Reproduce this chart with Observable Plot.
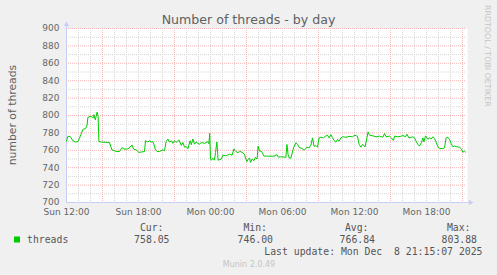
<!DOCTYPE html>
<html><head><meta charset="utf-8">
<script src="https://cdn.jsdelivr.net/npm/d3@7"></script>
<script src="https://cdn.jsdelivr.net/npm/@observablehq/plot@0.6"></script>
<style>
html,body{margin:0;padding:0;background:#f0f0f0;}
#chart{width:497px;height:275px;position:relative;}
</style></head><body><div id="chart"></div>
<script>
// minutes after Sun 12:00
const minutes = [
  0,7,18,32,45,57,65,74,82,95,
  103,107,124,132,137,144,153,158,162,174,
  215,227,249,265,277,287,307,328,335,348,
  362,374,390,395,407,415,424,432,437,445,
  453,465,482,490,498,507,515,524,532,540,
  548,562,574,582,590,598,607,618,624,632,
  640,648,657,665,674,690,707,712,716,720,
  725,732,740,745,752,758,774,782,798,815,
  828,837,845,857,865,878,890,895,902,907,
  915,920,928,937,945,953,958,965,975,987,
  1005,1038,1052,1060,1072,1097,1102,1108,1114,1122,
  1135,1147,1155,1163,1180,1188,1202,1213,1222,1230,
  1238,1247,1255,1263,1272,1285,1293,1305,1313,1322,
  1330,1338,1347,1355,1363,1372,1380,1397,1413,1430,
  1442,1455,1463,1472,1480,1493,1502,1508,1515,1532,
  1548,1565,1582,1590,1598,1615,1624,1635,1640,1657,
  1674,1682,1695,1702,1712,1724,1732,1740,1748,1757,
  1765,1774,1782,1787,1795,1807,1815,1824,1832,1840,
  1848,1857,1865,1882,1890,1898,1907,1915,1924,1932,
  1940,1952,1965,1974,1982,1990,1995
];
const threads = [
  770.5,776,776,771,769.5,770,774,779,784,785,
  789,798,799,797,801,795,803.9,799,770,769.5,
  769,760.5,758.6,758.6,763,761.5,761.5,766,761.5,760.5,
  757.6,758,758.6,771,769.5,771,769.5,770,767,760.5,
  758.6,758.6,760.5,759.5,770,773,769.5,771,768,771,
  769,772,765.6,769,763.5,764.5,761.9,771,766.5,773,
  767,769.5,768,767,769,768,770,767.5,779.5,750,
  748.6,751,748.6,757.6,769.5,748.6,750,754.4,753.6,755.5,
  754.4,761.5,759,757,759,757.6,755.5,751,747,749.5,
  751,746,750,748,752,750,764.7,759,759,753.4,
  753.3,753.3,755,752,752.5,752,766.7,755,751,751,
  762.8,768.6,767,763.5,761.7,760,763.5,762.8,766,774.3,
  764.5,765.5,763.5,774.3,775,774.3,776,777.4,774.3,778,
  774.3,771.3,769.3,772.4,770.5,774.3,775.5,775,776,775.5,
  777.4,776,766.7,763.6,766.7,764,774.3,781.2,777.4,776.6,
  775.5,776.3,775,779.3,775.5,776.3,774.3,771.3,776.3,775.5,
  776.3,777,775.5,778.5,774.3,775,775.5,774.3,770.5,766.7,
  764.8,768.6,774.3,769.7,776.6,772.7,774.3,773.2,775.5,773.6,
  769.3,764,762,762,762.8,774.3,775,772.4,767.4,764,
  764.8,764,763.6,761.7,757.8,759,758
];
const xTickHours = [0,6,12,18,24,30];
const xTickLabels = ["Sun 12:00","Sun 18:00","Mon 00:00","Mon 06:00","Mon 12:00","Mon 18:00"];
const majorGridHours = [3,9,15,21,27,33];
const yTicks = [700,720,740,760,780,800,820,840,860,880,900];
const minorYTicks = [710,730,750,770,790,810,830,850,870,890];
const title = "Number of threads - by day";
const yLabel = "number of threads";
const seriesName = "threads";
const statLabels = ["Cur:","Min:","Avg:","Max:"];
const statValues = ["758.05","746.00","766.84","803.88"];
const lastUpdate = "Last update: Mon Dec  8 21:15:07 2025";
const footer = "Munin 2.0.49";
const watermark = "RRDTOOL / TOBI OETIKER";

const start = new Date(2025, 11, 7, 12, 0);
const end = new Date(+start + 2000 * 60000);
const at = m => new Date(+start + m * 60000);
const data = minutes.map((m, i) => ({time: at(m), value: threads[i]}));
const xTicks = xTickHours.map(h => at(h * 60));
const minorX = d3.range(1, 34).map(h => at(h * 60));
const majorX = majorGridHours.map(h => at(h * 60));
const axisColor = "#c8cdf5";
const green = "#00cc00";
const minorColor = "#d6d6d6";
const majorColor = "#f6b4b4";

const chart = Plot.plot({
  width: 497, height: 275,
  marginLeft: 66, marginRight: 31, marginTop: 28, marginBottom: 73,
  style: {background: "#f0f0f0", color: "#666666", fontFamily: "'DejaVu Sans', sans-serif", fontSize: "9px", overflow: "visible"},
  x: {type: "time", domain: [start, end], ticks: xTicks,
      tickFormat: d => xTickLabels[xTicks.findIndex(v => +v === +d)],
      tickSize: 0, tickPadding: 6, label: null},
  y: {domain: [700, 900], ticks: yTicks, tickSize: 0, tickPadding: 7, label: null},
  marks: [
    Plot.frame({fill: "#ffffff", stroke: "none", insetRight: -1}),
    Plot.ruleY(minorYTicks, {stroke: minorColor, strokeDasharray: "1,1"}),
    Plot.ruleX(minorX, {stroke: minorColor, strokeDasharray: "1,1"}),
    Plot.ruleY(yTicks, {stroke: majorColor, strokeDasharray: "1,1"}),
    Plot.ruleX(majorX, {stroke: majorColor, strokeDasharray: "1,1"}),
    Plot.ruleX([start], {stroke: axisColor, insetTop: -3}),
    Plot.ruleY([700], {stroke: axisColor, insetRight: -3}),
    Plot.dot([{x: start, y: 900}], {x: "x", y: "y", symbol: "triangle", r: 2, fill: axisColor, stroke: "none", dy: -4}),
    Plot.dot([{x: end, y: 700}], {x: "x", y: "y", symbol: "triangle", r: 2, fill: axisColor, stroke: "none", rotate: 90, dx: 4}),
    Plot.line(data, {x: "time", y: "value", stroke: green, strokeWidth: 1})
  ]
});
document.getElementById("chart").appendChild(chart);

const svg = d3.select(chart);
const sans = "'DejaVu Sans', sans-serif";
const mono = "'DejaVu Sans Mono', monospace";
svg.append("text").attr("x", 248.5).attr("y", 23.5).attr("text-anchor", "middle")
  .attr("font-family", sans).attr("font-size", 12.6).attr("fill", "#606060").text(title);
svg.append("text").attr("transform", "translate(15.5,115) rotate(-90)").attr("text-anchor", "middle")
  .attr("font-family", sans).attr("font-size", 10.8).attr("fill", "#606060").text(yLabel);
svg.append("text").attr("transform", "translate(485,5) rotate(90)").attr("text-anchor", "start")
  .attr("font-family", sans).attr("font-size", 7.9).attr("fill", "#c4c4c4").text(watermark);
svg.append("rect").attr("x", 14).attr("y", 236.5).attr("width", 6).attr("height", 6).attr("fill", green);
svg.append("text").attr("x", 27).attr("y", 242.7).attr("text-anchor", "start").attr("font-family", mono).attr("font-size", 9.8)
  .attr("fill", "#555").text(seriesName);
const headerEnds = [163.5, 267, 368.5, 470.5];
const valueEnds = [169.5, 273, 375, 477];
statLabels.forEach((s, i) => {
  svg.append("text").attr("x", headerEnds[i]).attr("y", 231).attr("text-anchor", "end")
    .attr("font-family", mono).attr("font-size", 9.8).attr("fill", "#555").text(s);
  svg.append("text").attr("x", valueEnds[i]).attr("y", 242.7).attr("text-anchor", "end")
    .attr("font-family", mono).attr("font-size", 9.8).attr("fill", "#555").text(statValues[i]);
});
svg.append("text").attr("x", 482.5).attr("y", 254.5).attr("text-anchor", "end").style("white-space", "pre")
  .attr("font-family", mono).attr("font-size", 9.8).attr("fill", "#555").text(lastUpdate);
svg.append("text").attr("x", 249).attr("y", 267).attr("text-anchor", "middle")
  .attr("font-family", sans).attr("font-size", 8).attr("fill", "#c4c4c4").text(footer);
</script>
</body></html>
